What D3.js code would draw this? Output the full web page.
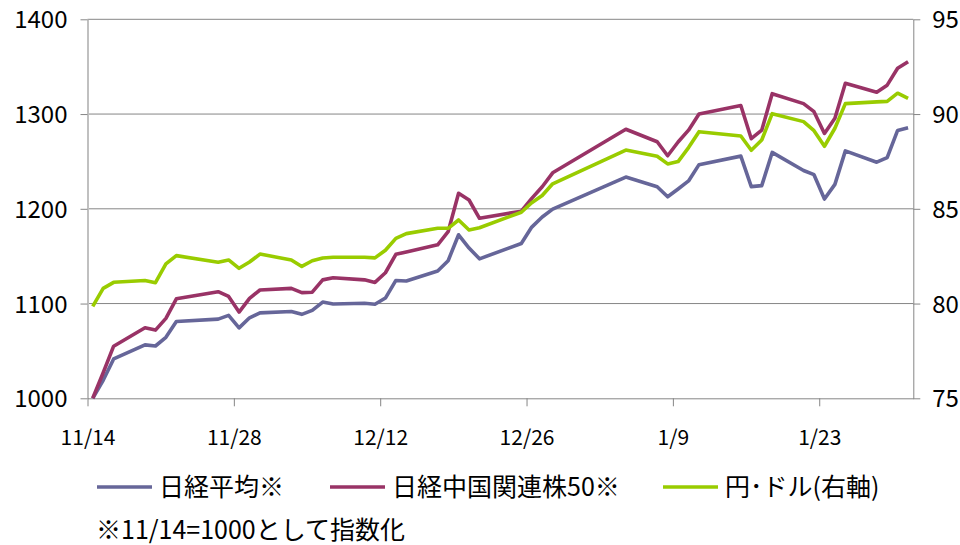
<!DOCTYPE html>
<html>
<head>
<meta charset="utf-8">
<script src="https://cdn.jsdelivr.net/npm/d3@7"></script>
<style>
  body { margin: 0; background: #fff; }
  svg text { font-family: "Noto Sans CJK JP", "Noto Sans", sans-serif; fill: #000; }
</style>
</head>
<body>
<svg id="chart" width="960" height="545"></svg>
<script>
// trading days 2012/11/14 - 2013/1/31
const dates = ["11/14","11/15","11/16","11/19","11/20","11/21","11/22","11/26","11/27","11/28","11/29","11/30",
  "12/3","12/4","12/5","12/6","12/7","12/10","12/11","12/12","12/13","12/14","12/17","12/18","12/19","12/20","12/21",
  "12/25","12/26","12/27","12/28","1/4","1/7","1/8","1/9","1/10","1/11","1/15","1/16","1/17","1/18",
  "1/21","1/22","1/23","1/24","1/25","1/28","1/29","1/30","1/31"];

const nikkei = [1000,1019.0,1041.5,1056.4,1055.2,1064.4,1081.0,1083.6,1087.5,1074.3,1085.0,1090.2,
  1091.6,1088.6,1092.8,1101.6,1099.6,1100.3,1099.3,1105.8,1124.4,1123.8,1134.4,1145.2,1172.6,1158.6,1147.2,
  1163.4,1180.7,1191.4,1199.7,1233.5,1223.2,1212.7,1220.9,1229.4,1246.6,1255.6,1223.4,1224.5,1259.5,
  1240.4,1236.0,1210.3,1225.8,1261.1,1249.2,1254.1,1282.7,1285.5];

const china50 = [1000,1027,1055,1074.5,1072,1084.4,1105,1112.5,1107.5,1091,1105.5,1114.3,
  1116,1111.5,1112,1125,1127.3,1125,1122.3,1132.5,1152,1154.5,1162,1175.8,1216.4,1209.3,1190,
  1197.5,1211,1223.3,1238,1284,1270.8,1256,1270.5,1283,1300,1309,1274,1283,1321.5,
  1311,1302.5,1279.5,1295.5,1332.5,1323,1330.5,1348.3,1355.3];

const yen = [79.85,80.8,81.12,81.22,81.1,82.09,82.53,82.18,82.3,81.86,82.19,82.61,
  82.3,81.96,82.26,82.4,82.44,82.44,82.41,82.81,83.44,83.69,83.97,83.97,84.41,83.88,84.0,
  84.82,85.32,85.7,86.32,88.1,87.77,87.37,87.49,88.23,89.07,88.84,88.09,88.63,90.02,
  89.6,89.12,88.3,89.25,90.55,90.64,90.67,91.1,90.83];

const xTickLabels = ["11/14","11/28","12/12","12/26","1/9","1/23"];
const leftTicks = [1000, 1100, 1200, 1300, 1400];
const rightTicks = [75, 80, 85, 90, 95];
const seriesNames = ["日経平均※", "日経中国関連株50※", "円･ドル(右軸)"];
const noteText = "※11/14=1000として指数化";

const colors = ["#666699", "#993366", "#99cc00"];

function toDate(s) {
  const [m, d] = s.split("/").map(Number);
  return new Date(Date.UTC(m >= 11 ? 2012 : 2013, m - 1, d));
}
const DAY = 86400000;

const plotLeft = 87.5, plotRight = 913.3, plotTop = 19.3, plotBottom = 398.3;
const svg = d3.select("#chart");

const x = d3.scaleUtc()
  .domain([toDate(dates[0]), new Date(+toDate(dates[dates.length - 1]) + DAY)])
  .range([plotLeft, plotRight]);
const yL = d3.scaleLinear().domain([1000, 1400]).range([plotBottom, plotTop]);
const yR = d3.scaleLinear().domain([75, 95]).range([plotBottom, plotTop]);

// grid
svg.append("g").selectAll("line").data(leftTicks.slice(1)).join("line")
  .attr("x1", plotLeft).attr("x2", plotRight)
  .attr("y1", d => yL(d)).attr("y2", d => yL(d))
  .attr("stroke", "#868686").attr("stroke-width", 1);

// left axis
const gL = svg.append("g").attr("transform", `translate(${plotLeft},0)`)
  .call(d3.axisLeft(yL).tickValues(leftTicks).tickFormat(d3.format("d"))
    .tickSize(7).tickSizeOuter(0).tickPadding(13));
gL.select(".domain").attr("stroke", "#c0c0c0").attr("stroke-width", 2);
gL.selectAll(".tick line").attr("stroke", "#868686");
gL.selectAll("text").attr("font-size", 24).attr("dy", "0.36em");

// right axis
const gR = svg.append("g").attr("transform", `translate(${plotRight},0)`)
  .call(d3.axisRight(yR).tickValues(rightTicks).tickSize(7).tickSizeOuter(0).tickPadding(12));
gR.select(".domain").attr("stroke", "#868686");
gR.selectAll(".tick line").attr("stroke", "#868686");
gR.selectAll("text").attr("font-size", 24).attr("dy", "0.36em");

// bottom axis
const gB = svg.append("g").attr("transform", `translate(0,${plotBottom})`)
  .call(d3.axisBottom(x).tickValues(xTickLabels.map(toDate)).tickSize(8).tickSizeOuter(0)
    .tickFormat((d, i) => xTickLabels[i]));
gB.select(".domain").attr("stroke", "#868686");
gB.selectAll(".tick line").attr("stroke", "#868686");
gB.selectAll("text").attr("font-size", 21).attr("y", 39).attr("dy", "0.36em");

// series
const px = (d, i) => x(new Date(+toDate(dates[i]) + DAY / 2));
const lineL = d3.line().x(px).y(d => yL(d));
const lineR = d3.line().x(px).y(d => yR(d));

[[nikkei, lineL, colors[0]], [china50, lineL, colors[1]], [yen, lineR, colors[2]]].forEach(([vals, gen, c]) => {
  svg.append("path").datum(vals)
    .attr("d", gen)
    .attr("fill", "none")
    .attr("stroke", c)
    .attr("stroke-width", 3.6)
    .attr("stroke-linejoin", "round");
});

// legend
const legendX = [97, 330, 663];
const leg = svg.append("g").attr("transform", "translate(0,487)");
seriesNames.forEach((name, i) => {
  leg.append("line").attr("x1", legendX[i]).attr("x2", legendX[i] + 55)
    .attr("stroke", colors[i]).attr("stroke-width", 3.6);
  leg.append("text").attr("x", legendX[i] + 62).attr("dy", "0.36em")
    .attr("font-size", 25).text(name);
});

svg.append("text").attr("x", 96).attr("y", 530).attr("dy", "0.36em")
  .attr("font-size", 25).text(noteText);
</script>
</body>
</html>
